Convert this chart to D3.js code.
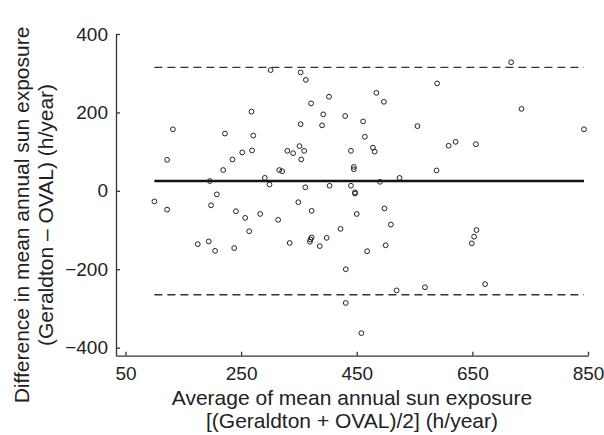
<!DOCTYPE html>
<html>
<head>
<meta charset="utf-8">
<script src="https://cdn.jsdelivr.net/npm/d3@7"></script>
<style>
  body { margin: 0; background: #fff; }
  text { font-family: "Liberation Sans", Arial, sans-serif; fill: #222; }
</style>
</head>
<body>
<svg id="chart" width="604" height="435"></svg>
<script>
// average of the two measures (h/year)
const avgValues = [301, 268, 132, 222, 271, 122, 235, 252, 269, 219, 316, 321, 291, 299, 196,
  353, 362, 589, 484, 402, 371, 497, 392, 430, 461, 353, 390, 555, 464, 351, 478, 330, 340,
  359, 440, 481, 354, 445, 445, 524, 588, 490, 361, 403, 440, 717, 735, 843, 609, 621, 656,
  208, 100, 122, 198, 241, 257, 283, 314, 264, 175, 194, 205, 238, 447, 447, 349, 372, 450,
  498, 509, 422, 334, 372, 370, 369, 386, 398, 468, 500, 431, 519, 568, 431, 458, 657, 653,
  649, 672];
// difference Geraldton - OVAL (h/year)
const diffValues = [308, 202, 157, 146, 141, 79, 80, 98, 103, 53, 53, 50, 33, 16, 25,
  302, 283, 274, 250, 240, 223, 227, 195, 191, 177, 170, 167, 165, 138, 114, 110, 102, 96,
  102, 102, 100, 80, 61, 55, 33, 52, 23, 9, 13, 13, 328, 209, 157, 115, 125, 119,
  -9, -27, -48, -37, -52, -69, -59, -74, -103, -136, -129, -153, -146, -4, -7, -29, -51, -59,
  -45, -86, -97, -133, -119, -124, -130, -141, -120, -154, -139, -200, -254, -246, -286, -363, -100, -117,
  -134, -238];

const meanDiff = 25;
const limits = [315, -265];

const xTicks = [50, 250, 450, 650, 850];
const yTicks = [400, 200, 0, -200, -400];

const points = avgValues.map((a, i) => ({ a: a, d: diffValues[i] }));

const svg = d3.select("#chart");
const x = d3.scaleLinear().domain([33.6, 850]).range([116, 588]);
const y = d3.scaleLinear().domain([-420.5, 400]).range([355.7, 34]);

const axisColor = "#333";

// x axis
const gx = svg.append("g").attr("transform", "translate(0," + y(-420.5) + ")");
gx.call(d3.axisBottom(x).tickValues(xTicks).tickSizeInner(-4).tickSizeOuter(0).tickPadding(10)
  .tickFormat(d3.format("d")));
gx.select(".domain").attr("stroke", axisColor).attr("stroke-width", 1.3);
gx.selectAll(".tick line").attr("stroke", axisColor).attr("stroke-width", 1.3);
gx.selectAll(".tick text").style("font-size", "19px").attr("fill", "#222").attr("dy", "0.75em");

// y axis
const gy = svg.append("g").attr("transform", "translate(" + x(33.6) + ",0)");
gy.call(d3.axisLeft(y).tickValues(yTicks).tickSizeInner(-4).tickSizeOuter(0).tickPadding(8)
  .tickFormat(d => d < 0 ? "\u2212" + Math.abs(d) : d));
gy.select(".domain").attr("stroke", axisColor).attr("stroke-width", 1.3);
gy.selectAll(".tick line").attr("stroke", axisColor).attr("stroke-width", 1.3);
gy.selectAll(".tick text").style("font-size", "19px").attr("fill", "#222");

const xMin = d3.min(avgValues), xMax = d3.max(avgValues);

// limits of agreement
svg.selectAll("line.limit").data(limits).enter().append("line")
  .attr("class", "limit")
  .attr("x1", x(xMin)).attr("x2", x(xMax))
  .attr("y1", d => y(d)).attr("y2", d => y(d))
  .attr("stroke", "#333").attr("stroke-width", 1.4)
  .attr("stroke-dasharray", "8,5");

// mean difference
svg.append("line")
  .attr("x1", x(xMin)).attr("x2", x(xMax))
  .attr("y1", y(meanDiff)).attr("y2", y(meanDiff))
  .attr("stroke", "#111").attr("stroke-width", 2.5);

// points
svg.selectAll("circle.pt").data(points).enter().append("circle")
  .attr("class", "pt")
  .attr("cx", d => x(d.a)).attr("cy", d => y(d.d))
  .attr("r", 2.4)
  .attr("fill", "none").attr("stroke", "#222").attr("stroke-width", 1);

// axis titles
svg.append("text").attr("x", 352).attr("y", 405).attr("text-anchor", "middle")
  .style("font-size", "21px").text("Average of mean annual sun exposure");
svg.append("text").attr("x", 352).attr("y", 428).attr("text-anchor", "middle")
  .style("font-size", "21px").text("[(Geraldton + OVAL)/2] (h/year)");

const yt = svg.append("text").attr("transform", "translate(29,215) rotate(-90)")
  .attr("text-anchor", "middle").style("font-size", "21px");
yt.append("tspan").attr("x", 0).attr("dy", 0).text("Difference in mean annual sun exposure");
yt.append("tspan").attr("x", 0).attr("dy", 24).text("(Geraldton \u2013 OVAL) (h/year)");
</script>
</body>
</html>
